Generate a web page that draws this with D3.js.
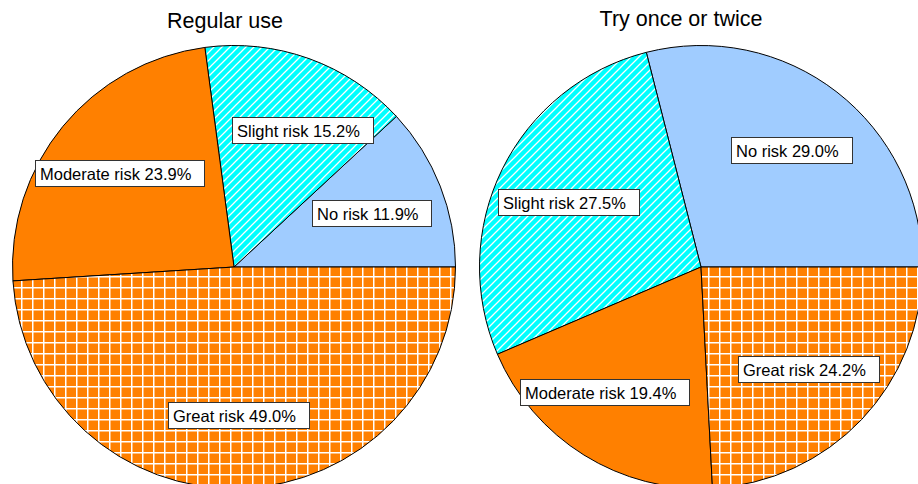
<!DOCTYPE html>
<html>
<head>
<meta charset="utf-8">
<script src="https://cdn.jsdelivr.net/npm/d3@7"></script>
<style>
  html, body { margin: 0; padding: 0; background: #fff; }
  svg { display: block; font-family: "Liberation Sans", Arial, sans-serif; }
</style>
</head>
<body>
<svg id="chart" width="918" height="484"></svg>
<script>
// Perceived risk categories, in drawing order (counter-clockwise from 3 o'clock)
const categories = ["No risk", "Slight risk", "Moderate risk", "Great risk"];

// Percent of respondents per category
const regularUse = [11.9, 15.2, 23.9, 49.0];
const tryOnceOrTwice = [29.0, 27.5, 19.4, 24.2];

const chartTitles = ["Regular use", "Try once or twice"];

// ---- layout ----
const svg = d3.select("#chart");
const W = 918, H = 484;
const radius = 221.5;
const labelRadius = 148;
const pies = [
  { title: chartTitles[0], values: regularUse,     cx: 234, cy: 267, titleDx: -9,  titleY: 28,
    nudge: { "Slight risk": [18, 2] } },
  { title: chartTitles[1], values: tryOnceOrTwice, cx: 701, cy: 267, titleDx: -20, titleY: 26,
    nudge: { "Moderate risk": [-18, -1] } }
];

// ---- fills ----
const defs = svg.append("defs");

// white grid on orange
const grid = defs.append("pattern")
  .attr("id", "grid").attr("patternUnits", "userSpaceOnUse")
  .attr("x", 7).attr("y", 9).attr("width", 11).attr("height", 11);
grid.append("rect").attr("width", 11).attr("height", 11).attr("fill", "#ff8000");
grid.append("rect").attr("x", 0).attr("y", 0).attr("width", 1.5).attr("height", 11).attr("fill", "#fff");
grid.append("rect").attr("x", 0).attr("y", 0).attr("width", 11).attr("height", 1.5).attr("fill", "#fff");

// white diagonal hatching on cyan
const hatch = defs.append("pattern")
  .attr("id", "hatch").attr("patternUnits", "userSpaceOnUse")
  .attr("width", 8).attr("height", 8);
hatch.append("rect").attr("width", 8).attr("height", 8).attr("fill", "#00ffff");
hatch.append("path")
  .attr("d", "M-2,2 L2,-2 M0,8 L8,0 M6,10 L10,6")
  .attr("stroke", "#fff").attr("stroke-width", 1.3);

const fills = d3.scaleOrdinal()
  .domain(categories)
  .range(["#a0ccff", "url(#hatch)", "#ff8000", "url(#grid)"]);

// counter-clockwise from 3 o'clock
const pieGen = d3.pie().sort(null)
  .startAngle(Math.PI / 2)
  .endAngle(Math.PI / 2 - 2 * Math.PI);

const arc = d3.arc().innerRadius(0).outerRadius(radius);
const labelArc = d3.arc().innerRadius(labelRadius).outerRadius(labelRadius);

pies.forEach(p => {
  const data = categories.map((c, i) => ({ cat: c, value: p.values[i] }));
  const arcs = pieGen.value(d => d.value)(data);

  const g = svg.append("g").attr("transform", `translate(${p.cx},${p.cy})`);

  g.selectAll("path.slice")
    .data(arcs)
    .join("path")
    .attr("class", "slice")
    .attr("d", arc)
    .attr("fill", d => fills(d.data.cat))
    .attr("stroke", "#000")
    .attr("stroke-width", 1)
    .attr("stroke-linejoin", "round");

  // value labels in white boxes
  const lab = g.selectAll("g.label")
    .data(arcs)
    .join("g")
    .attr("class", "label");

  lab.each(function(d) {
    const [x0, y0] = labelArc.centroid(d);
    const n = p.nudge[d.data.cat] || [0, 0];
    const cx = x0 + n[0], cy = y0 + n[1];
    const sel = d3.select(this);
    const rect = sel.append("rect");
    const txt = sel.append("text")
      .attr("font-size", 16.5)
      .attr("fill", "#000")
      .text(`${d.data.cat} ${d.data.value.toFixed(1)}%`);
    const tw = txt.node().getComputedTextLength();
    const bw = tw + 18, bh = 26;
    const left = cx - bw / 2, top = cy - bh / 2;
    rect.attr("x", Math.round(left) + 0.5).attr("y", Math.round(top) + 0.5)
      .attr("width", Math.round(bw)).attr("height", bh)
      .attr("fill", "#fff").attr("stroke", "#333").attr("stroke-width", 1);
    txt.attr("x", Math.round(left) + 5).attr("y", Math.round(top) + 19.5);
  });

  svg.append("text")
    .attr("x", p.cx + p.titleDx)
    .attr("y", p.titleY)
    .attr("text-anchor", "middle")
    .attr("font-size", 21.5)
    .attr("fill", "#000")
    .text(p.title);
});
</script>
</body>
</html>
